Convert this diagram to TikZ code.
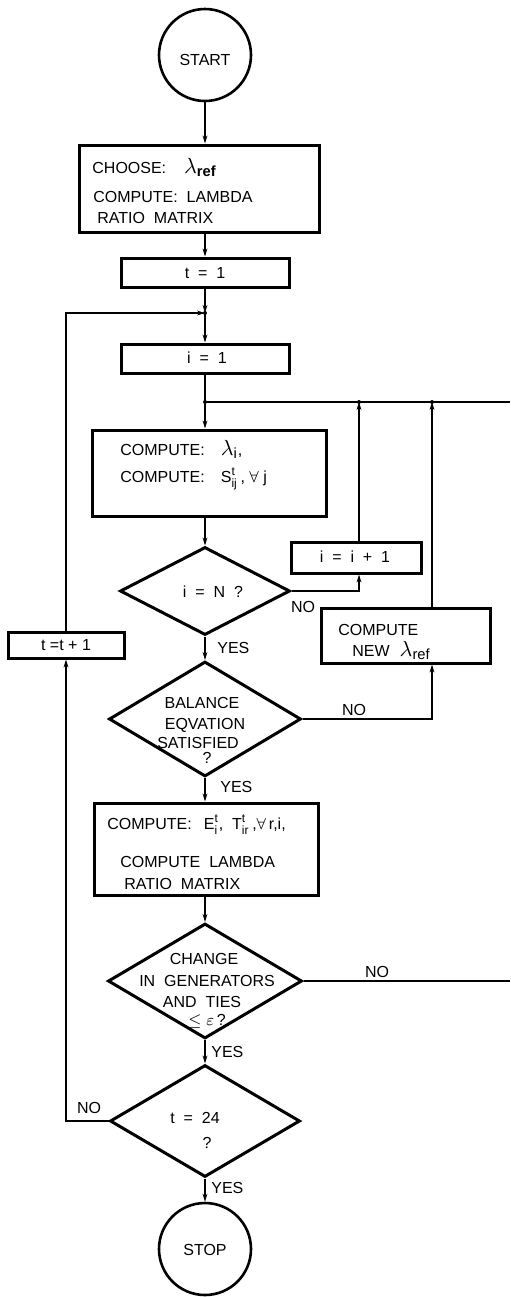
\documentclass[tikz,border=0pt]{standalone}
\usepackage{amsmath}
\usepackage{fontspec}
\setmainfont{Liberation Sans}
\usetikzlibrary{shapes.geometric,arrows.meta}
\newcommand\biglam{\fontsize{10.5}{12}\selectfont}
\begin{document}
\begin{tikzpicture}[x=0.5pt,y=-0.5pt,
  font=\fontsize{8}{9.6}\selectfont,
  box/.style={draw, line width=1.5pt, rectangle, inner sep=0pt},
  dia/.style={draw, diamond, line width=1.5pt, inner sep=0pt},
  term/.style={draw, circle, line width=1.3pt, minimum size=46pt, inner sep=0pt},
  conn/.style={line width=0.6pt},
  arr/.style={conn, -{Stealth[length=4pt,width=2.4pt]}},
  txt/.style={inner sep=0pt, anchor=base west},
  ctxt/.style={inner sep=0pt, anchor=base},
  lbl/.style={inner sep=0pt, anchor=center},
  ylbl/.style={inner sep=0pt, anchor=west},
  dot/.style={circle, fill, inner sep=0pt, minimum size=2pt}]
\useasboundingbox (0,0) rectangle (510,1297);

% ---- shapes ----
\node[term] (start) at (205,55) {};
\node[ctxt] (startt) at (205,65) {START};

\node[box, minimum width=120pt, minimum height=43.5pt] (choose) at (199,188.5) {};
\node[txt] (choose1) at (92,173) {CHOOSE:\hspace{9pt}{\biglam$\lambda_{\text{\bfseries ref}}$}};
\node[txt] (choose2) at (93,202) {COMPUTE:\ \ LAMBDA};
\node[txt] (choose3) at (97,223) {RATIO\ \ MATRIX};

\node[box, minimum width=84pt, minimum height=14.5pt] (t1) at (205,272.5) {};
\node[lbl] (t1t) at (205,273) {t\ \ =\ \ 1};

\node[box, minimum width=84pt, minimum height=14.5pt] (i1) at (205,358.5) {};
\node[lbl] (i1t) at (207,358) {i\ \ =\ \ 1};

\node[box, minimum width=117pt, minimum height=43pt] (comp) at (209,473) {};
\node[txt] (comp1) at (120,455) {COMPUTE:\hspace{8pt}{\biglam$\lambda_{\text{i}}$},};
\node[txt] (comp2) at (120,482) {COMPUTE:\hspace{8pt}$\text{S}^{\text{t}}_{\text{ij}}$\,,\ $\forall$\ j};

\node[dia, minimum width=85pt, minimum height=44pt] (dN) at (205,591) {};
\node[ctxt] (dNt) at (213,597) {i\ \ =\ \ N\ \ ?};

\node[box, minimum width=65pt, minimum height=15.5pt] (iinc) at (356,557.5) {};
\node[lbl] (iinct) at (355,557) {i\ \ =\ \ i\ \ +\ \ 1};

\node[box, minimum width=84.5pt, minimum height=27.5pt] (newl) at (405.5,635.5) {};
\node[txt] (newl1) at (338,635) {COMPUTE};
\node[txt] (newl2) at (352,656) {NEW\hspace{5pt}{\biglam$\lambda_{\text{ref}}$}};

\node[box, minimum width=58pt, minimum height=13pt] (tinc) at (66,645) {};
\node[lbl] (tinct) at (66,645) {t\ =t\ +\ 1};

\node[dia, minimum width=96pt, minimum height=57.5pt] (dB) at (205,719) {};
\node[ctxt] (dB1) at (202,708) {BALANCE};
\node[ctxt] (dB2) at (205,729) {EQVATION};
\node[ctxt] (dB3) at (198,748) {SATISFIED};
\node[ctxt] (dB4) at (207,763) {?};

\node[box, minimum width=112pt, minimum height=46pt] (compE) at (206,849) {};
\node[txt] (compE1) at (107,829) {COMPUTE:\hspace{6pt}$\text{E}^{\text{t}}_{\text{i}}$,\ \ $\text{T}^{\text{t}}_{\text{ir}}$\,,$\forall$\,r,i,};
\node[txt] (compE2) at (120,867) {COMPUTE\ \ LAMBDA};
\node[txt] (compE3) at (124,889) {RATIO\ \ MATRIX};

\node[dia, minimum width=97pt, minimum height=57.5pt] (dC) at (205,981) {};
\node[ctxt] (dC1) at (204,964) {CHANGE};
\node[ctxt] (dC2) at (207,986) {IN\ \ GENERATORS};
\node[ctxt] (dC3) at (202,1007) {AND\ \ TIES};
\node[ctxt] (dC4) at (207,1025) {$\leq\varepsilon$\,?};

\node[dia, minimum width=95pt, minimum height=56pt] (d24) at (205,1121) {};
\node[ctxt] (d24a) at (195,1123) {t\ \ =\ \ 24};
\node[ctxt] (d24b) at (207,1148) {?};

\node[term] (stop) at (205,1249) {};
\node[ctxt] (stopt) at (205,1255) {STOP};

% ---- junctions ----
\coordinate (j1) at (205,313);
\coordinate (j2) at (205,402);
\coordinate (jA) at (359,402);
\coordinate (jB) at (432,402);
\coordinate (jR) at (510,402);
\coordinate (cR) at (510,981);
\node[dot] (dotj1) at (j1) {};
\node[dot] (dotj2) at (j2) {};
\node[dot] (dotjA) at (jA) {};
\node[dot] (dotjB) at (jB) {};

% ---- connectors ----
\draw[arr] (start) -- (start |- choose.north);
\draw[arr] (t1 |- choose.south) -- (t1);
\draw[arr] (t1) -- (j1);
\draw[arr] (tinc) |- (j1);
\draw[arr] (j1) -- (i1);
\draw[conn] (i1) -- (j2);
\draw[conn] (j2) -- (jR);
\draw[arr] (j2) -- (j2 |- comp.north);
\draw[arr] (j2 |- comp.south) -- (dN);
\draw[arr] (dN.east) -| (jA |- iinc.south);
\draw[arr] (jA |- iinc.north) -- (jA);
\draw[arr] (jB |- newl.north) -- (jB);
\draw[arr] (dN) -- (dB);
\draw[arr] (dB.east) -| (jB |- newl.south);
\draw[arr] (dB) -- (dB |- compE.north);
\draw[arr] (dB |- compE.south) -- (dC);
\draw[conn] (dC.east) -- (cR);
\draw[arr] (dC) -- (d24);
\draw[arr] (d24.west) -| (tinc.south);
\draw[arr] (d24) -- (stop);

% ---- labels ----
\node[lbl] (no1) at (303,607) {NO};
\node[ylbl] (yes1) at (217,648) {YES};
\node[lbl] (no2) at (354,710) {NO};
\node[ylbl] (yes2) at (220,787) {YES};
\node[lbl] (no3) at (377,972) {NO};
\node[ylbl] (yes3) at (211,1052) {YES};
\node[lbl] (no4) at (89,1108) {NO};
\node[ylbl] (yes4) at (211,1188) {YES};
\end{tikzpicture}
\end{document}
